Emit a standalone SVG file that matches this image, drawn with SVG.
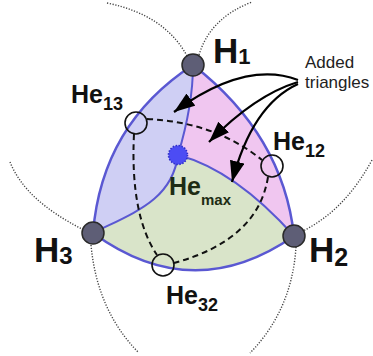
<svg xmlns="http://www.w3.org/2000/svg" width="373" height="356" viewBox="0 0 373 356">
<style>
.lbl{font-family:"Liberation Sans",Arial,sans-serif;font-weight:bold;fill:#111}
.edge{fill:none;stroke:#5a58d2;stroke-width:2.5;stroke-linejoin:round}
.inner{fill:none;stroke:#5a58d2;stroke-width:2}
.dash{fill:none;stroke:#111;stroke-width:2;stroke-dasharray:6 4}
.dot{fill:none;stroke:#444;stroke-width:1.4;stroke-dasharray:1.2 1.6}
.arr{fill:none;stroke:#000;stroke-width:2.2;marker-end:url(#ah)}
.vtx{fill:#5e5e76;stroke:#2a2a2a;stroke-width:1.5}
.he{fill:none;stroke:#111;stroke-width:1.6}
.note{font-family:"Liberation Sans",Arial,sans-serif;font-size:17px;fill:#222}
</style>
<defs>
<marker id="ah" markerUnits="userSpaceOnUse" markerWidth="24" markerHeight="16" refX="21" refY="7.5" orient="auto">
<path d="M0,0 L21,7.5 L0,15 Z" fill="#000"/>
</marker>
</defs>
<rect width="373" height="356" fill="#fff"/>
<g id="regions">
<path d="M193,65 Q102,124 93,233 C135,212 172,200 178,155 Q193,105 193,65 Z" fill="#cfcff4"/>
<path d="M193,65 Q283,135 294,236 Q235,170 178,155 Q193,105 193,65 Z" fill="#f0c6f0"/>
<path d="M93,233 Q193,306 294,236 Q235,170 178,155 C172,200 135,212 93,233 Z" fill="#d9e4c9"/>
</g>
<g id="connectors">
<path class="edge" d="M193,65 Q102,124 93,233"/>
<path class="edge" d="M193,65 Q283,135 294,236"/>
<path class="edge" d="M93,233 Q193,306 294,236"/>
<path class="inner" d="M178,155 Q193,105 193,65"/>
<path class="inner" d="M178,155 Q235,170 294,236"/>
<path class="inner" d="M178,155 C172,200 135,212 93,233"/>
<path class="dot" d="M107,3 Q165,15 187,56"/>
<path class="dot" d="M199,55 Q210,18 252,2"/>
<path class="dot" d="M372,160 Q345,210 303,231"/>
<path class="dot" d="M296,247 Q292,310 250,353"/>
<path class="dot" d="M91,245 Q97,310 138,352"/>
<path class="dot" d="M10,162 Q25,200 82,229"/>
<path class="dash" d="M147,119 Q215,122 262,160"/>
<path class="dash" d="M134,134 Q130,215 157,255"/>
<path class="dash" d="M268,177 Q258,240 174,263"/>
<path class="arr" d="M298,80 Q245,60 174,112"/>
<path class="arr" d="M298,82 Q255,95 209,142"/>
<path class="arr" d="M298,84 Q252,105 232,182"/>
</g>
<g id="H1"><circle class="vtx" cx="193" cy="65" r="11"/><text class="lbl" x="213" y="63" font-size="35">H<tspan font-size="22" dy="1">1</tspan></text></g>
<g id="H2"><circle class="vtx" cx="294" cy="236" r="11"/><text class="lbl" x="309" y="262" font-size="35">H<tspan font-size="25" dy="4">2</tspan></text></g>
<g id="H3"><circle class="vtx" cx="93" cy="233" r="11"/><text class="lbl" x="34" y="262" font-size="35">H<tspan font-size="24" dy="2">3</tspan></text></g>
<g id="Hemax"><circle cx="178" cy="155" r="9.5" fill="#4c4cf4" stroke="#2e2ec8" stroke-width="1.6" stroke-dasharray="1.5 1.5"/><text class="lbl" x="169" y="195" font-size="25" style="fill:#1e2c14">He<tspan font-size="15" dy="10">max</tspan></text></g>
<g id="He13"><circle class="he" cx="136" cy="123" r="11"/><text class="lbl" x="71" y="103" font-size="25">He<tspan font-size="18" dy="7">13</tspan></text></g>
<g id="He12"><circle class="he" cx="272" cy="166" r="11"/><text class="lbl" x="273" y="150" font-size="25">He<tspan font-size="18" dy="7">12</tspan></text></g>
<g id="He32"><circle class="he" cx="163" cy="265" r="11"/><text class="lbl" x="166" y="304" font-size="25">He<tspan font-size="18" dy="7">32</tspan></text></g>
<g id="added"><text class="note" x="305" y="68">Added</text><text class="note" x="305" y="88">triangles</text></g>
</svg>
